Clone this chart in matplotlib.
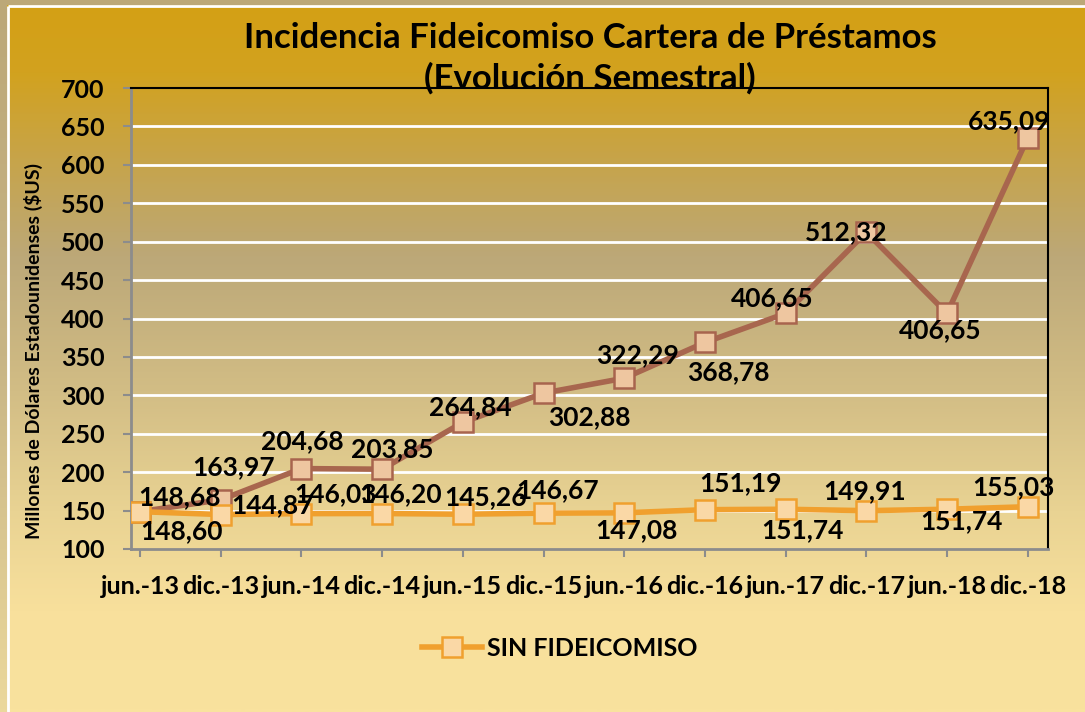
import numpy as np
import matplotlib
matplotlib.use("Agg")
import matplotlib.pyplot as plt
from matplotlib.colors import LinearSegmentedColormap
from matplotlib.lines import Line2D

# ---------------- data ----------------
categories = ["jun.-13", "dic.-13", "jun.-14", "dic.-14", "jun.-15", "dic.-15",
              "jun.-16", "dic.-16", "jun.-17", "dic.-17", "jun.-18", "dic.-18"]
con_fideicomiso = [148.68, 163.97, 204.68, 203.85, 264.84, 302.88,
                   322.29, 368.78, 406.65, 512.32, 406.65, 635.09]
sin_fideicomiso = [148.60, 144.87, 146.03, 146.20, 145.26, 146.67,
                   147.08, 151.19, 151.74, 149.91, 151.74, 155.03]
y_ticks = [100, 150, 200, 250, 300, 350, 400, 450, 500, 550, 600, 650, 700]

title_text = "Incidencia Fideicomiso Cartera de Préstamos\n(Evolución Semestral)"
ylabel_text = "Millones de Dólares Estadounidenses ($US)"
legend_text = "SIN FIDEICOMISO"

# label offsets (pixels) for data labels
off_con = [(39, 14), (13, 33), (1, 27), (10, 20), (8, 15), (46, -24),
           (13, 23), (23, -30), (-13, 15), (-20, 0), (-7, -17), (-19, 17)]
off_sin = [(42, -19), (52, 9), (34, 19), (18, 19), (23, 17), (14, 23),
           (12, -17), (36, 27), (17, -21), (-2, 20), (14, -12), (-14, 20)]

FONT = "Lato"
W, H = 1085, 712
fig = plt.figure(figsize=(W / 100, H / 100), dpi=100)

# ---------------- background ----------------
bg = fig.add_axes([0, 0, 1, 1], zorder=-10)
bg.axis("off")
stops = [(0.0, "#D4A014"), (0.10, "#D2A21F"), (0.22, "#C7A449"), (0.36, "#BCA878"),
         (0.55, "#D2BD85"), (0.72, "#E9D393"), (0.86, "#F8E09C"), (1.0, "#F9E29E")]
cmap = LinearSegmentedColormap.from_list("bg", stops)
grad = np.linspace(0, 1, 400).reshape(-1, 1)
bg.imshow(grad, cmap=cmap, aspect="auto", extent=(0, W, H, 0), interpolation="bilinear")
left_cmap = LinearSegmentedColormap.from_list("lf", [(0, "#BCA878"), (0.5, "#C8B585"), (1, "#EBD89C")])
bg.imshow(grad, cmap=left_cmap, aspect="auto", extent=(0, 7, H, 0), interpolation="bilinear")
bg.fill_between([0, W], 0, 5, color="#BCA878", lw=0)
bg.plot([8, 8], [6, H], color="white", lw=2, solid_capstyle="butt")
bg.plot([8, W], [6, 6], color="white", lw=2, solid_capstyle="butt")
bg.set_xlim(0, W)
bg.set_ylim(H, 0)

# ---------------- main axes ----------------
x0, x1, yt, yb = 131, 1048, 88, 549
ax = fig.add_axes([x0 / W, 1 - yb / H, (x1 - x0) / W, (yb - yt) / H])
ax.set_facecolor("none")
x = np.arange(len(categories))
step = 80.7
ax.set_xlim(-(140 - x0) / step, (x1 - 140) / step)
ax.set_ylim(100, 700)

for v in y_ticks[1:-1]:
    ax.axhline(v, color="white", lw=2, zorder=1)

brown = "#A8664E"
ax.plot(x, con_fideicomiso, color=brown, lw=4, marker="s", markersize=14,
        markerfacecolor="#EEC6A0", markeredgecolor="#A8644E", markeredgewidth=1.8, zorder=3)
orange = "#F0A02E"
ax.plot(x, sin_fideicomiso, color=orange, lw=4, marker="s", markersize=14,
        markerfacecolor="#FAD8A6", markeredgecolor=orange, markeredgewidth=1.8, zorder=3)

lab_kw = dict(fontfamily=FONT, fontweight="bold", fontsize=19, color="black",
              ha="center", va="center", textcoords="offset pixels", zorder=5)
for i, v in enumerate(con_fideicomiso):
    ax.annotate(f"{v:.2f}".replace(".", ","), (x[i], v), xytext=off_con[i], **lab_kw)
for i, v in enumerate(sin_fideicomiso):
    ax.annotate(f"{v:.2f}".replace(".", ","), (x[i], v), xytext=off_sin[i], **lab_kw)

ax.set_xticks(x)
ax.set_xticklabels(categories, fontfamily=FONT, fontweight="bold", fontsize=18)
ax.set_yticks(y_ticks)
ax.set_yticklabels([str(t) for t in y_ticks], fontfamily=FONT, fontweight="bold", fontsize=18)
ax.tick_params(axis="y", direction="out", length=6, width=1.5, color="#8C8C8C", pad=13)
ax.tick_params(axis="x", direction="out", length=6, width=1.5, color="#8C8C8C", pad=13)

for s in ("left", "bottom"):
    ax.spines[s].set_color("#8C8C8C")
    ax.spines[s].set_linewidth(2)
for s in ("top", "right"):
    ax.spines[s].set_color("black")
    ax.spines[s].set_linewidth(1.5)

ax.set_ylabel(ylabel_text, fontfamily=FONT, fontweight="bold", fontsize=14)
ax.yaxis.set_label_coords(-(x0 - 43) / (x1 - x0), 0.43)

fig.text(590 / W, 1 - 58 / H, title_text, ha="center", va="center",
         fontfamily=FONT, fontweight="bold", fontsize=25, linespacing=1.3, zorder=10)

handle = Line2D([], [], color=orange, lw=4, marker="s", markersize=14,
                markerfacecolor="#FAD8A6", markeredgecolor=orange, markeredgewidth=1.8)
fig.legend([handle], [legend_text], loc="center", bbox_to_anchor=(560 / W, 1 - 648 / H),
           frameon=False, prop=dict(family=FONT, weight="bold", size=18),
           handlelength=2.4, handletextpad=0.2)

fig.savefig("out.png", dpi=100)
